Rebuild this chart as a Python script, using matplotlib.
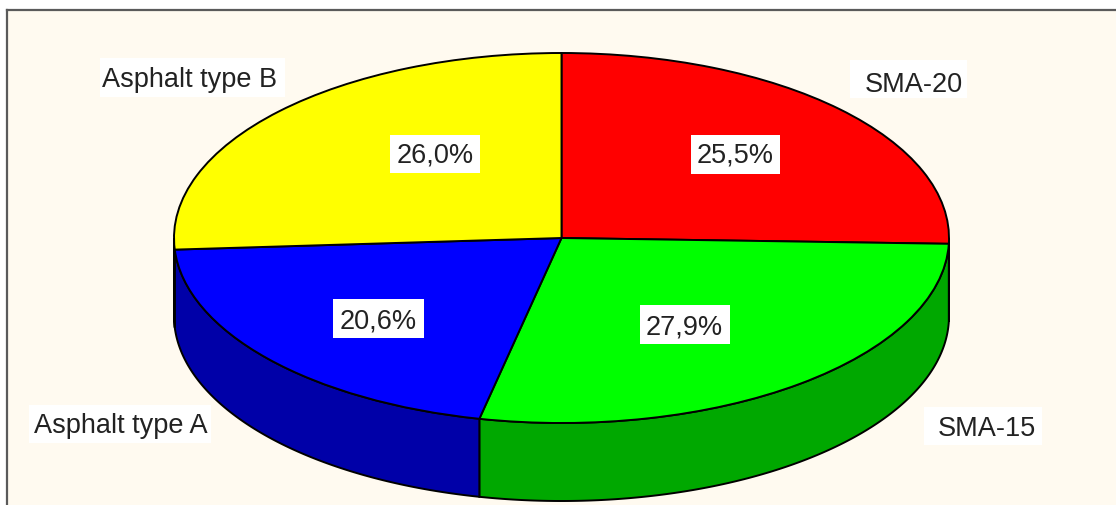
import numpy as np
import matplotlib
matplotlib.use('Agg')
import matplotlib.pyplot as plt
from matplotlib.patches import Rectangle

plt.rcParams['font.family'] = ['Liberation Sans', 'DejaVu Sans']

# data
categories = ['SMA-20', 'SMA-15', 'Asphalt type A', 'Asphalt type B']
values = [25.5, 27.9, 20.6, 26.0]
value_labels = ['25,5%', '27,9%', '20,6%', '26,0%']
top_colors = ['#ff0000', '#00ff00', '#0000ff', '#ffff00']
side_colors = ['#b00000', '#00a800', '#0000a8', '#a8a800']

W, H = 1116, 505
BG = '#fffaf0'

# pie geometry in pixels
cx, cy, rx, ry = 561.5, 238, 387.5, 185
depth = 78 / ry

fig = plt.figure(figsize=(W / 100, H / 100), dpi=100, facecolor='white')
ax = fig.add_axes([7 / W, 0, (W - 7) / W, (H - 10) / H])

# 3d side wall, only the front half of the disc shows
fracs = np.array(values) / sum(values)
ends = np.cumsum(fracs) * 2 * np.pi
starts = ends - fracs * 2 * np.pi
for a0, a1, col in zip(starts, ends, side_colors):
    a0 = max(a0, np.pi / 2)
    a1 = min(a1, 3 * np.pi / 2)
    if a1 <= a0:
        continue
    t = np.linspace(a0, a1, 200)
    xs = np.sin(t)
    ys = np.cos(t)
    ax.fill(np.r_[xs, xs[::-1]], np.r_[ys, ys[::-1] - depth],
            facecolor=col, edgecolor='black', linewidth=1.4, zorder=1)

wedges, _ = ax.pie(values, colors=top_colors, startangle=90, counterclock=False,
                   wedgeprops={'edgecolor': 'black', 'linewidth': 1.4, 'zorder': 2})

# pie() switches the frame off and forces equal aspect, undo both
ax.set_aspect('auto')
ax.set_frame_on(True)
ax.set_facecolor(BG)
ax.set_xlim((7 - cx) / rx, (W - cx) / rx)
ax.set_ylim((cy - H) / ry, (cy - 10) / ry)
ax.set_xticks([])
ax.set_yticks([])
ax.spines['right'].set_visible(False)
ax.spines['bottom'].set_visible(False)
for s in ['left', 'top']:
    ax.spines[s].set_color('#5a5a5a')
    ax.spines[s].set_linewidth(1.6)


# white box and text are placed apart, the text is not centred in its box
def label(s, p, box):
    x0, x1, y0, y1 = box
    fig.add_artist(Rectangle((x0 / W, 1 - y1 / H), (x1 - x0) / W, (y1 - y0) / H,
                             transform=fig.transFigure, facecolor='white',
                             edgecolor='none', zorder=4))
    fig.text(p[0] / W, 1 - p[1] / H, s, ha='center', va='center', fontsize=19.5,
             color='#222222', zorder=5)


name_pos = [(914, 85), (987, 429), (121, 426), (189, 80)]
name_box = [(850, 967, 60, 98), (924, 1042, 407, 445), (29, 211, 405, 443), (100, 285, 58, 97)]
value_pos = [(735, 156), (684, 327), (378, 321), (435, 156)]
value_box = [(691, 780, 135, 174), (640, 730, 305, 344), (333, 424, 299, 338), (390, 480, 135, 173)]
for name, p, b in zip(categories, name_pos, name_box):
    label(name, p, b)
for txt, p, b in zip(value_labels, value_pos, value_box):
    label(txt, p, b)

fig.savefig('out.png', dpi=100, facecolor='white')
